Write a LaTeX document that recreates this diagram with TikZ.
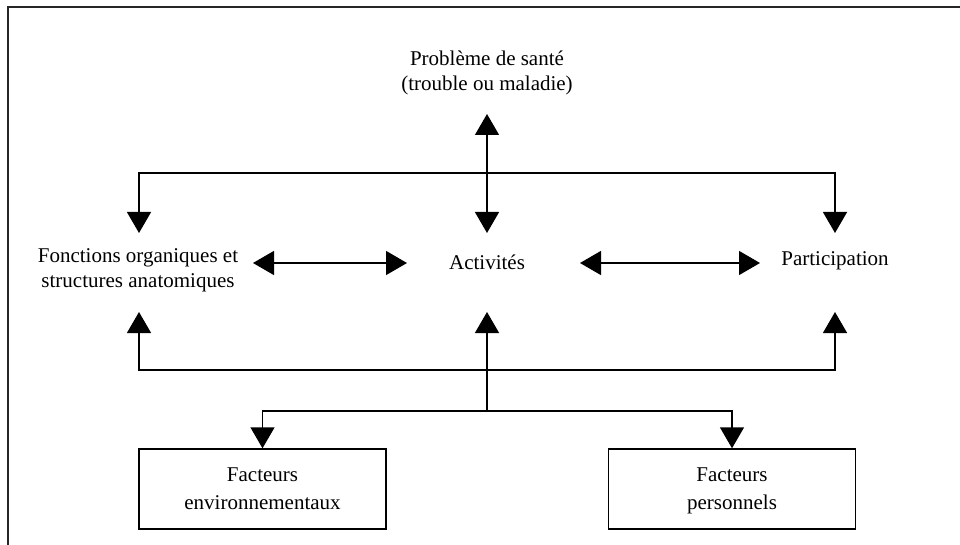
\documentclass[tikz,border=0pt]{standalone}
\usepackage{fontspec}
\setmainfont{Liberation Serif}
\usetikzlibrary{arrows.meta}
\begin{document}
\begin{tikzpicture}[x=1pt,y=-1pt,
  lbl/.style={font=\fontsize{21}{25}\selectfont, align=center, inner sep=0pt},
  boxnode/.style={draw, line width=1.4pt, minimum width=247pt, minimum height=80pt, font=\fontsize{21}{28}\selectfont, align=center, text depth=0pt},
  conn/.style={line width=1.4pt},
  tip/.style={-{Triangle[width=24pt,length=21pt]}},
  dtip/.style={{Triangle[width=24pt,length=21pt]}-{Triangle[width=24pt,length=21pt]}}
]
\useasboundingbox (0,0) rectangle (960,545);
% frame (open: only top and left edges visible)
\draw[line width=1.8pt, black!85] (8,545) -- (8,7) -- (960,7);

% nodes
\node[lbl] (prob) at (487,73) {Problème de santé\\(trouble ou maladie)};
\node[lbl] (fonc) at (138,270) {Fonctions organiques et\\structures anatomiques};
\node[lbl] (act) at (487,262) {Activités};
\node[lbl] (part) at (835,261) {Participation};
\node[boxnode] (env) at (262.5,489) {Facteurs\\environnementaux};
\node[boxnode] (pers) at (732,489) {Facteurs\\personnels};

% connector endpoints
\coordinate (probtip) at (487,114);
\coordinate (acttop) at (487,233);
\coordinate (actbot) at (487,312);
\coordinate (toprow) at (487,173);
\coordinate (botrow) at (487,370);
\coordinate (split) at (487,411);
\coordinate (fonctop) at (139,233);
\coordinate (foncbot) at (139,312);
\coordinate (parttop) at (835,233);
\coordinate (partbot) at (835,312);
\coordinate (fa) at (253,263);
\coordinate (fb) at (407,263);
\coordinate (pa) at (580,263);
\coordinate (pb) at (760,263);

% vertical double arrow problem <-> activities
\draw[conn,dtip] (probtip) -- (acttop);
% top distribution line
\draw[conn,tip] (toprow) -| (fonctop);
\draw[conn,tip] (toprow) -| (parttop);
% horizontal double arrows
\draw[conn,dtip] (fa) -- (fb);
\draw[conn,dtip] (pa) -- (pb);
% bottom line
\draw[conn,tip] (split) -- (actbot);
\draw[conn,tip] (botrow) -| (foncbot);
\draw[conn,tip] (botrow) -| (partbot);
% factors
\draw[conn,tip] (split) -| (env.north);
\draw[conn,tip] (split) -| (pers.north);
\end{tikzpicture}
\end{document}
